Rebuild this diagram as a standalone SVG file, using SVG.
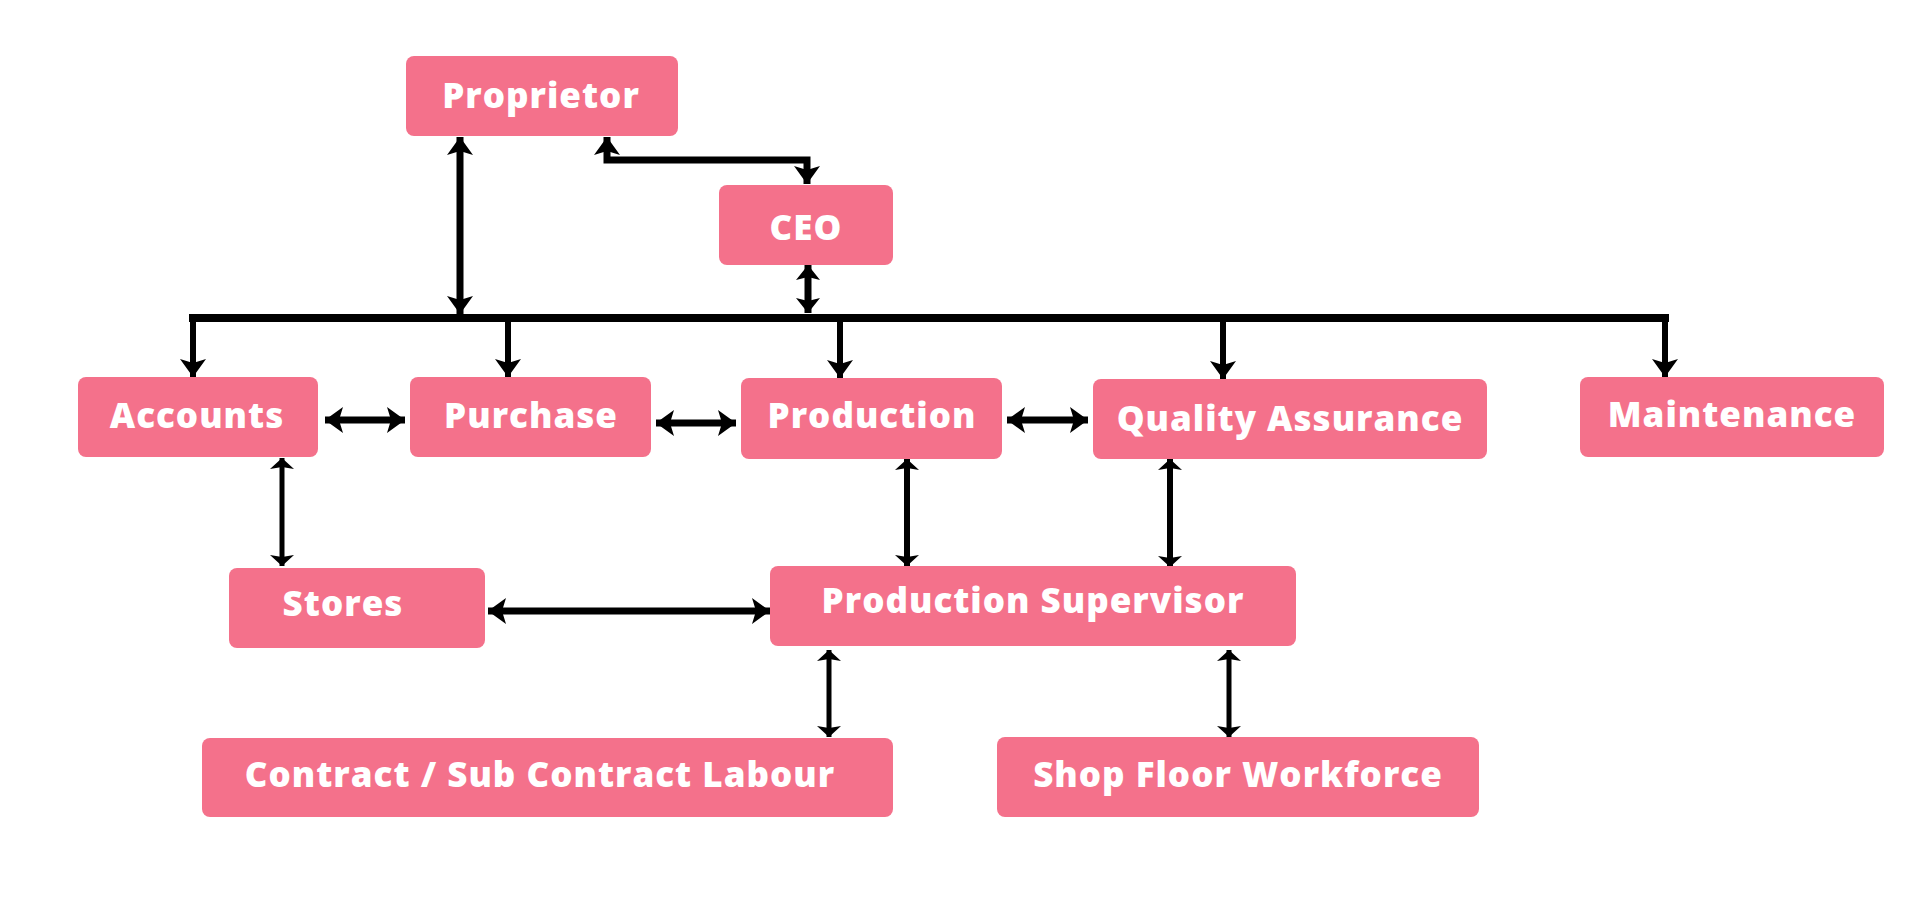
<svg xmlns="http://www.w3.org/2000/svg" width="1920" height="900" viewBox="0 0 1920 900">
<style>
.box{fill:#F4718B;}
.lbl{font-family:"Open Sans","Liberation Sans",sans-serif;font-weight:800;font-size:35px;fill:#ffffff;text-anchor:middle;letter-spacing:1px;}
.c{fill:none;stroke:#000;stroke-linecap:butt;stroke-linejoin:miter;}
.w8{stroke-width:8;}
.w7{stroke-width:7;}
.w6{stroke-width:6;}
.w5{stroke-width:5;}
</style>
<defs>
<marker id="ah" viewBox="0 0 18 26" refX="18" refY="13" markerWidth="18" markerHeight="26" markerUnits="userSpaceOnUse" orient="auto-start-reverse">
<path d="M0,0 L18,13 L0,26 L4,13 Z" fill="#000"/>
</marker>
<marker id="am" viewBox="0 0 15 24" refX="15" refY="12" markerWidth="15" markerHeight="24" markerUnits="userSpaceOnUse" orient="auto-start-reverse">
<path d="M0,0 L15,12 L0,24 L3,12 Z" fill="#000"/>
</marker>
<marker id="as" viewBox="0 0 11 24" refX="11" refY="12" markerWidth="11" markerHeight="24" markerUnits="userSpaceOnUse" orient="auto-start-reverse">
<path d="M0,0 L11,12 L0,24 L2,12 Z" fill="#000"/>
</marker>
</defs>
<rect width="1920" height="900" fill="#ffffff"/>
<g id="connectors">
<path class="c w8" d="M189,318 H1669"/>
<path class="c w7" d="M460,137 V314" marker-start="url(#ah)" marker-end="url(#ah)"/>
<path class="c w7" d="M607,137 V160 H807 V184" marker-start="url(#ah)" marker-end="url(#ah)"/>
<path class="c w7" d="M808,265 V313" marker-start="url(#am)" marker-end="url(#am)"/>
<path class="c w6" d="M193,318 V377" marker-end="url(#ah)"/>
<path class="c w6" d="M508,318 V377" marker-end="url(#ah)"/>
<path class="c w6" d="M840,318 V378" marker-end="url(#ah)"/>
<path class="c w6" d="M1223,318 V379" marker-end="url(#ah)"/>
<path class="c w6" d="M1665,318 V377" marker-end="url(#ah)"/>
<path class="c w7" d="M325,420 H405" marker-start="url(#ah)" marker-end="url(#ah)"/>
<path class="c w7" d="M656,423 H736" marker-start="url(#ah)" marker-end="url(#ah)"/>
<path class="c w7" d="M1007,420 H1088" marker-start="url(#ah)" marker-end="url(#ah)"/>
<path class="c w5" d="M282,458 V566" marker-start="url(#as)" marker-end="url(#as)"/>
<path class="c w7" d="M488,611 H770" marker-start="url(#ah)" marker-end="url(#ah)"/>
<path class="c w6" d="M907,459 V566" marker-start="url(#as)" marker-end="url(#as)"/>
<path class="c w6" d="M1170,459 V567" marker-start="url(#as)" marker-end="url(#as)"/>
<path class="c w5" d="M829,650 V737" marker-start="url(#as)" marker-end="url(#as)"/>
<path class="c w5" d="M1229,650 V737" marker-start="url(#as)" marker-end="url(#as)"/>
</g>
<g id="proprietor"><rect class="box" x="406" y="56" width="272" height="80" rx="8"/><text class="lbl" x="541" y="108">Proprietor</text></g>
<g id="ceo"><rect class="box" x="719" y="185" width="174" height="80" rx="8"/><text class="lbl" x="806" y="240">CEO</text></g>
<g id="accounts"><rect class="box" x="78" y="377" width="240" height="80" rx="8"/><text class="lbl" x="197" y="428">Accounts</text></g>
<g id="purchase"><rect class="box" x="410" y="377" width="241" height="80" rx="8"/><text class="lbl" x="531" y="428">Purchase</text></g>
<g id="production"><rect class="box" x="741" y="378" width="261" height="81" rx="8"/><text class="lbl" x="872" y="428">Production</text></g>
<g id="quality-assurance"><rect class="box" x="1093" y="379" width="394" height="80" rx="8"/><text class="lbl" x="1290" y="431">Quality Assurance</text></g>
<g id="maintenance"><rect class="box" x="1580" y="377" width="304" height="80" rx="8"/><text class="lbl" x="1732" y="427">Maintenance</text></g>
<g id="stores"><rect class="box" x="229" y="568" width="256" height="80" rx="8"/><text class="lbl" x="343" y="616">Stores</text></g>
<g id="production-supervisor"><rect class="box" x="770" y="566" width="526" height="80" rx="8"/><text class="lbl" x="1033" y="613">Production Supervisor</text></g>
<g id="contract-labour"><rect class="box" x="202" y="738" width="691" height="79" rx="8"/><text class="lbl" x="540" y="787">Contract / Sub Contract Labour</text></g>
<g id="shop-floor"><rect class="box" x="997" y="737" width="482" height="80" rx="8"/><text class="lbl" x="1238" y="787">Shop Floor Workforce</text></g>
</svg>
